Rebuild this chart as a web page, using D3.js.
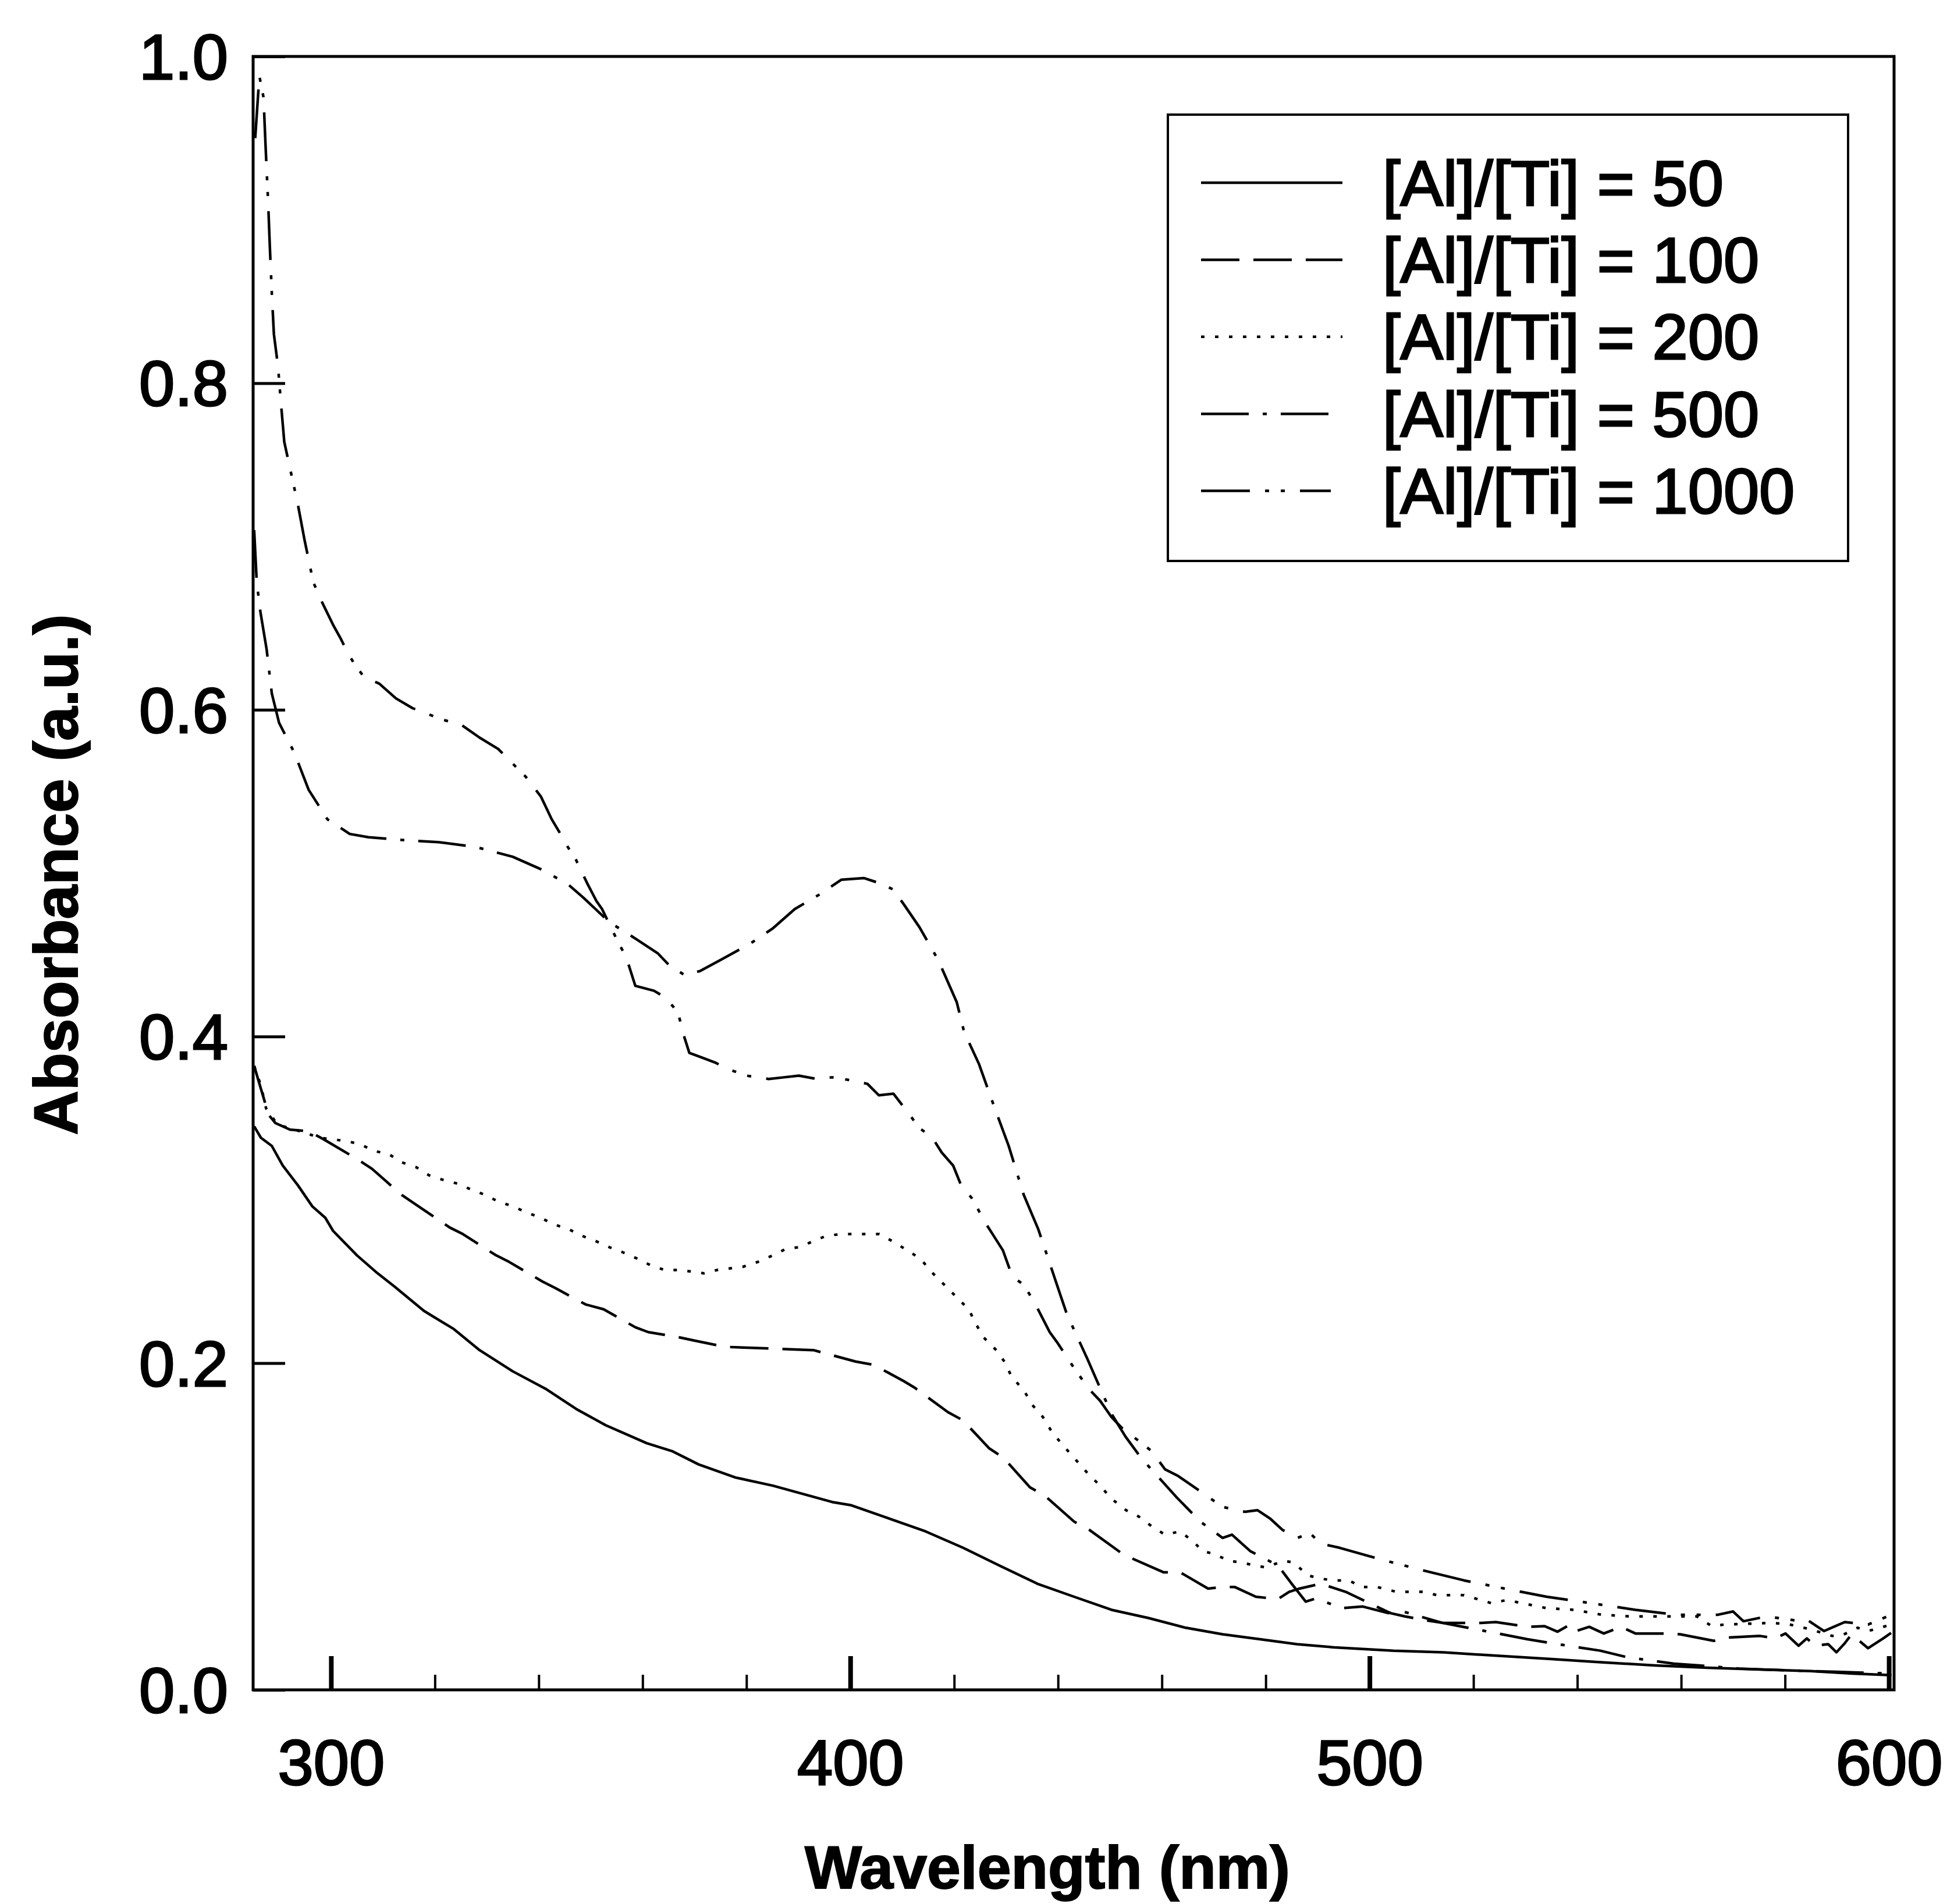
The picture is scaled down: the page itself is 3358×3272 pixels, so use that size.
<!DOCTYPE html>
<html>
<head>
<meta charset="utf-8">
<script src="https://cdn.jsdelivr.net/npm/d3@7"></script>
<style>
  body { margin: 0; background: #fff; }
  svg { display: block; font-family: "Liberation Sans", Arial, sans-serif; }
</style>
</head>
<body>
<div id="chart"></div>
<script>
// absorbance spectra, [wavelength nm, absorbance a.u.]
var series50 = [[285.2,0.345],[286.5,0.338],[288.6,0.333],[290.7,0.321],[293.6,0.309],[296.4,0.296],[298.9,0.289],[300.4,0.281],[305,0.266],[308.6,0.256],[312.2,0.247],[317.9,0.232],[323.6,0.221],[328.6,0.208],[335,0.195],[341.5,0.184],[347.2,0.172],[352.9,0.162],[360.8,0.151],[365.8,0.146],[370.8,0.138],[377.9,0.130],[385.1,0.125],[390.8,0.120],[396.5,0.115],[400.2,0.113],[407.4,0.105],[414.5,0.097],[421.7,0.087],[428.8,0.076],[436,0.065],[443.1,0.057],[450.3,0.049],[457.4,0.044],[464.6,0.038],[471.7,0.034],[478.9,0.031],[486,0.028],[493.2,0.026],[504.6,0.024],[514.2,0.023],[524,0.021],[534.5,0.019],[544,0.017],[554.9,0.015],[565,0.0135],[575.2,0.0125],[585,0.0115],[593,0.010],[600.5,0.009]];

var series100 = [[285.2,0.382],[286.5,0.368],[288,0.352],[289.3,0.347],[292.1,0.343],[295.7,0.342],[298.6,0.337],[305,0.325],[307.9,0.319],[313.6,0.303],[316.4,0.297],[322.9,0.283],[325.4,0.279],[331.8,0.266],[334.3,0.262],[340.7,0.250],[343.2,0.246],[349,0.236],[352.5,0.233],[358.6,0.222],[361.1,0.219],[366.8,0.216],[369.7,0.214],[375.8,0.210],[384.3,0.209],[392.9,0.208],[395.2,0.206],[401,0.201],[404.5,0.199],[410.3,0.189],[412.4,0.185],[418.8,0.170],[421.7,0.165],[426.7,0.148],[429.5,0.142],[434.6,0.124],[437.4,0.119],[443.1,0.103],[446,0.098],[452.1,0.084],[454.6,0.080],[460.3,0.072],[463.5,0.072],[468.9,0.062],[471.7,0.063],[474,0.063],[478.1,0.057],[481,0.056],[482.4,0.0557],[484.5,0.060],[486.5,0.062],[490.6,0.065],[495.4,0.060],[500,0.053],[504,0.047],[506.8,0.045],[510,0.043],[514.2,0.041],[521.5,0.041],[524.3,0.0415],[530.5,0.0386],[533.7,0.039],[536.2,0.0356],[538.6,0.040],[539.8,0.036],[542.3,0.0386],[545.1,0.0345],[548.4,0.0386],[551.2,0.0345],[557.3,0.0345],[559.8,0.034],[566.3,0.030],[568.7,0.032],[575.2,0.033],[578.1,0.0315],[580.1,0.0345],[582.6,0.027],[584.2,0.0315],[585.8,0.027],[588.3,0.028],[589.9,0.023],[591.5,0.0285],[592.8,0.034],[596,0.0255],[598.9,0.0315],[600.5,0.035]];

var series200 = [[285.2,0.382],[286.5,0.37],[287.5,0.356],[289.7,0.346],[293,0.343],[297.9,0.338],[302.9,0.336],[305.7,0.334],[308.2,0.330],[311.1,0.328],[313.6,0.323],[316.4,0.320],[318.9,0.315],[321.8,0.312],[324.3,0.310],[327.2,0.306],[329.7,0.303],[332.2,0.299],[335,0.296],[337.9,0.292],[340.4,0.289],[342.9,0.285],[345.8,0.282],[348.3,0.278],[350.8,0.275],[353.6,0.271],[356.1,0.268],[359,0.264],[361.5,0.260],[364.3,0.257],[367.2,0.257],[369.7,0.256],[371.8,0.255],[374.3,0.257],[376.8,0.258],[379.3,0.259],[382.2,0.262],[385.1,0.266],[387.6,0.270],[390.1,0.271],[395.4,0.278],[398.1,0.279],[400.6,0.279],[403.1,0.279],[405.6,0.279],[408.5,0.274],[411,0.269],[413.5,0.264],[415.6,0.256],[418.1,0.248],[420.6,0.240],[422.8,0.233],[424.2,0.224],[425.6,0.216],[428.1,0.208],[429.9,0.200],[431,0.192],[433.5,0.183],[434.9,0.175],[437.1,0.167],[438.8,0.158],[440.6,0.151],[445.6,0.133],[448.1,0.125],[450.3,0.117],[453.1,0.110],[455.6,0.106],[458.1,0.100],[460.6,0.095],[463.5,0.097],[466,0.091],[467.8,0.085],[470.3,0.083],[472.8,0.079],[475.3,0.078],[478.1,0.076],[480,0.075],[483.5,0.079],[485.3,0.078],[488.2,0.070],[490.7,0.068],[493.2,0.067],[496,0.067],[498.5,0.063],[501.4,0.063],[505.2,0.060],[510.5,0.060],[512.9,0.058],[518.2,0.058],[523.5,0.053],[526.4,0.055],[534.1,0.050],[539.4,0.049],[544.7,0.046],[550,0.045],[556,0.045],[563,0.045],[565.9,0.039],[568.3,0.040],[577.7,0.041],[580.9,0.040],[585,0.037],[589.1,0.033],[590.7,0.033],[594,0.038],[596,0.036],[600.5,0.040]];

var series500 = [[285.2,0.71],[285.7,0.678],[286.4,0.66],[287.6,0.637],[288.6,0.61],[290,0.592],[292.9,0.574],[295.7,0.551],[299.3,0.533],[303.6,0.524],[307.2,0.522],[315,0.52],[320.7,0.519],[327.9,0.516],[335,0.51],[340.7,0.502],[345.7,0.493],[348.6,0.485],[353.6,0.47],[358.6,0.46],[362.9,0.451],[365,0.444],[367.9,0.438],[371,0.44],[375.1,0.447],[380.8,0.457],[385,0.466],[389.3,0.478],[394.1,0.487],[398.3,0.496],[402.6,0.497],[405.5,0.494],[408.3,0.49],[410.5,0.48],[413.3,0.467],[416.9,0.447],[420.5,0.421],[421.9,0.403],[424.8,0.383],[427.6,0.358],[430.5,0.333],[433.4,0.303],[436.2,0.282],[439.9,0.247],[441.7,0.23],[445.6,0.203],[447.8,0.187],[450.3,0.169],[453,0.155],[456,0.142],[462.8,0.118],[467.4,0.103],[471.7,0.093],[473.5,0.095],[477,0.085],[482.4,0.076],[485,0.065],[487.7,0.054],[489.7,0.056],[494.6,0.05],[498.7,0.051],[503.6,0.047],[506.4,0.048],[514,0.041],[522.3,0.036],[530.4,0.031],[536.2,0.028],[544.4,0.024],[549.6,0.02],[558.6,0.016],[563.4,0.015],[571.2,0.013],[580,0.012],[590,0.011],[600.5,0.01]];

var series1000 = [[285.4,0.95],[286.2,0.988],[287,0.975],[287.4,0.945],[287.9,0.91],[288.2,0.885],[288.6,0.855],[289,0.83],[289.8,0.81],[290.3,0.79],[291,0.764],[292.3,0.745],[293.6,0.726],[294.9,0.704],[296.6,0.678],[298.4,0.665],[300.4,0.652],[301.8,0.644],[303.2,0.635],[304.7,0.627],[306.4,0.62],[309.3,0.616],[312.5,0.607],[315.7,0.601],[318.2,0.598],[321.4,0.594],[325,0.591],[328.6,0.583],[332.2,0.576],[334.7,0.568],[337.5,0.559],[340.4,0.547],[342.5,0.533],[344,0.525],[345.4,0.517],[347.2,0.508],[349.3,0.494],[351.1,0.483],[352.2,0.478],[355.4,0.457],[356.8,0.449],[358.6,0.431],[362.2,0.428],[364.3,0.424],[366.8,0.415],[367.9,0.401],[369,0.39],[371.5,0.387],[374,0.384],[376.5,0.38],[380.1,0.376],[384.3,0.374],[387.2,0.375],[390.1,0.376],[393.6,0.374],[396.5,0.375],[400.5,0.373],[403.3,0.371],[405.5,0.364],[408.3,0.365],[411.2,0.353],[413.3,0.344],[415.8,0.338],[417.6,0.329],[419.8,0.321],[421.2,0.31],[423.4,0.301],[426.2,0.285],[427.6,0.278],[429.4,0.269],[431.2,0.253],[433.4,0.248],[435.5,0.237],[438.4,0.219],[440,0.212],[443.1,0.197],[446,0.184],[448.1,0.177],[450.3,0.167],[452.4,0.16],[455.3,0.153],[458.1,0.146],[460.6,0.135],[463.1,0.131],[468.1,0.12],[471.7,0.112],[476,0.109],[478.4,0.11],[480.8,0.105],[483.2,0.098],[486.1,0.093],[488.5,0.096],[490.6,0.0895],[494.2,0.087],[502,0.08],[510.5,0.073],[518.2,0.067],[526,0.062],[534.1,0.057],[542.7,0.053],[551.2,0.049],[559,0.046],[567.1,0.046],[570,0.048],[572,0.042],[576.5,0.045],[583,0.042],[584.2,0.043],[587.5,0.036],[591.5,0.0415],[596,0.04],[600.5,0.046]];

var seriesLabels = ["[Al]/[Ti] = 50", "[Al]/[Ti] = 100", "[Al]/[Ti] = 200", "[Al]/[Ti] = 500", "[Al]/[Ti] = 1000"];
var xMajorTicks = [300, 400, 500, 600];
var xMinorTicks = [320, 340, 360, 380, 420, 440, 460, 480, 520, 540, 560, 580];
var yTicks = [0, 0.2, 0.4, 0.6, 0.8, 1.0];

var series = [
  { label: seriesLabels[0], values: series50, dash: null, sample: 243 },
  { label: seriesLabels[1], values: series100, dash: "66,24", sample: 243 },
  { label: seriesLabels[2], values: series200, dash: "6,18", sample: 243 },
  { label: seriesLabels[3], values: series500, dash: "82,24,7,24", sample: 223 },
  { label: seriesLabels[4], values: series1000, dash: "84,26,7,20,7,26", sample: 223 }
];

var width = 3358, height = 3272;
var margin = { top: 97, right: 103, bottom: 368, left: 435 };
var chartWidth = width - margin.left - margin.right;
var chartHeight = height - margin.top - margin.bottom;

var svg = d3.select("#chart")
  .append("svg")
  .attr("width", width)
  .attr("height", height);

svg.append("rect").attr("width", width).attr("height", height).attr("fill", "#fff");

var g = svg.append("g")
  .attr("transform", `translate(${margin.left}, ${margin.top})`);

var xScale = d3.scaleLinear().domain([285, 601]).range([0, chartWidth]);
var yScale = d3.scaleLinear().domain([0, 1]).range([chartHeight, 0]);

svg.append("defs").append("clipPath").attr("id", "plot-clip")
  .append("rect").attr("width", chartWidth).attr("height", chartHeight);

// axes (ticks point inward)
var xAxis = d3.axisBottom(xScale).tickValues(xMajorTicks).tickSize(-58).tickFormat(d3.format("d"));
var xMinor = d3.axisBottom(xScale).tickValues(xMinorTicks).tickSize(-26).tickFormat("");
var yAxis = d3.axisLeft(yScale).tickValues(yTicks).tickSize(-55).tickFormat(d3.format(".1f"));

var gx = g.append("g").attr("class", "x axis")
  .attr("transform", `translate(0, ${chartHeight})`).call(xAxis);
gx.select(".domain").remove();
gx.selectAll("line").attr("stroke", "#000").attr("stroke-width", 8);
gx.selectAll("text").attr("y", 163).attr("dy", 0)
  .attr("font-size", 110).attr("fill", "#000")
  .attr("stroke", "#000").attr("stroke-width", 3);

var gxm = g.append("g").attr("class", "x minor")
  .attr("transform", `translate(0, ${chartHeight})`).call(xMinor);
gxm.select(".domain").remove();
gxm.selectAll("line").attr("stroke", "#000").attr("stroke-width", 4);

var gy = g.append("g").attr("class", "y axis").call(yAxis);
gy.select(".domain").remove();
gy.selectAll("line").attr("stroke", "#000").attr("stroke-width", 5);
gy.selectAll("text").attr("x", -43).attr("dy", "0.35em")
  .attr("font-size", 110).attr("fill", "#000")
  .attr("stroke", "#000").attr("stroke-width", 3);

// frame
g.append("rect")
  .attr("width", chartWidth)
  .attr("height", chartHeight)
  .attr("fill", "none")
  .attr("stroke", "#000")
  .attr("stroke-width", 5);

var line = d3.line()
  .x(d => xScale(d[0]))
  .y(d => yScale(d[1]));

g.append("g").attr("class", "lines").attr("clip-path", "url(#plot-clip)")
  .selectAll("path")
  .data(series)
  .enter()
  .append("path")
  .attr("d", d => line(d.values))
  .attr("fill", "none")
  .attr("stroke", "#000")
  .attr("stroke-width", 4.5)
  .attr("stroke-linejoin", "round")
  .attr("stroke-dasharray", d => d.dash);

// legend
var legend = svg.append("g").attr("transform", "translate(2007, 197)");
legend.append("rect")
  .attr("width", 1169).attr("height", 767)
  .attr("fill", "#fff").attr("stroke", "#000").attr("stroke-width", 4);

var rows = legend.selectAll(".row")
  .data(series)
  .enter()
  .append("g")
  .attr("class", "row")
  .attr("transform", (d, i) => `translate(0, ${117 + i * 132.4})`);

rows.append("line")
  .attr("x1", 57).attr("x2", d => 57 + d.sample)
  .attr("stroke", "#000").attr("stroke-width", 4.5)
  .attr("stroke-dasharray", d => d.dash);

rows.append("text")
  .attr("x", 369).attr("dy", "0.35em")
  .attr("font-size", 110)
  .attr("stroke", "#000").attr("stroke-width", 3)
  .text(d => d.label);

// axis titles
svg.append("text")
  .attr("x", 1800).attr("y", 3245)
  .attr("text-anchor", "middle")
  .attr("font-size", 104).attr("font-weight", "bold")
  .attr("stroke", "#000").attr("stroke-width", 2)
  .text("Wavelength (nm)");

svg.append("text")
  .attr("transform", "translate(133, 1503) rotate(-90)")
  .attr("text-anchor", "middle")
  .attr("font-size", 106).attr("font-weight", "bold")
  .attr("stroke", "#000").attr("stroke-width", 2)
  .text("Absorbance (a.u.)");
</script>
</body>
</html>
